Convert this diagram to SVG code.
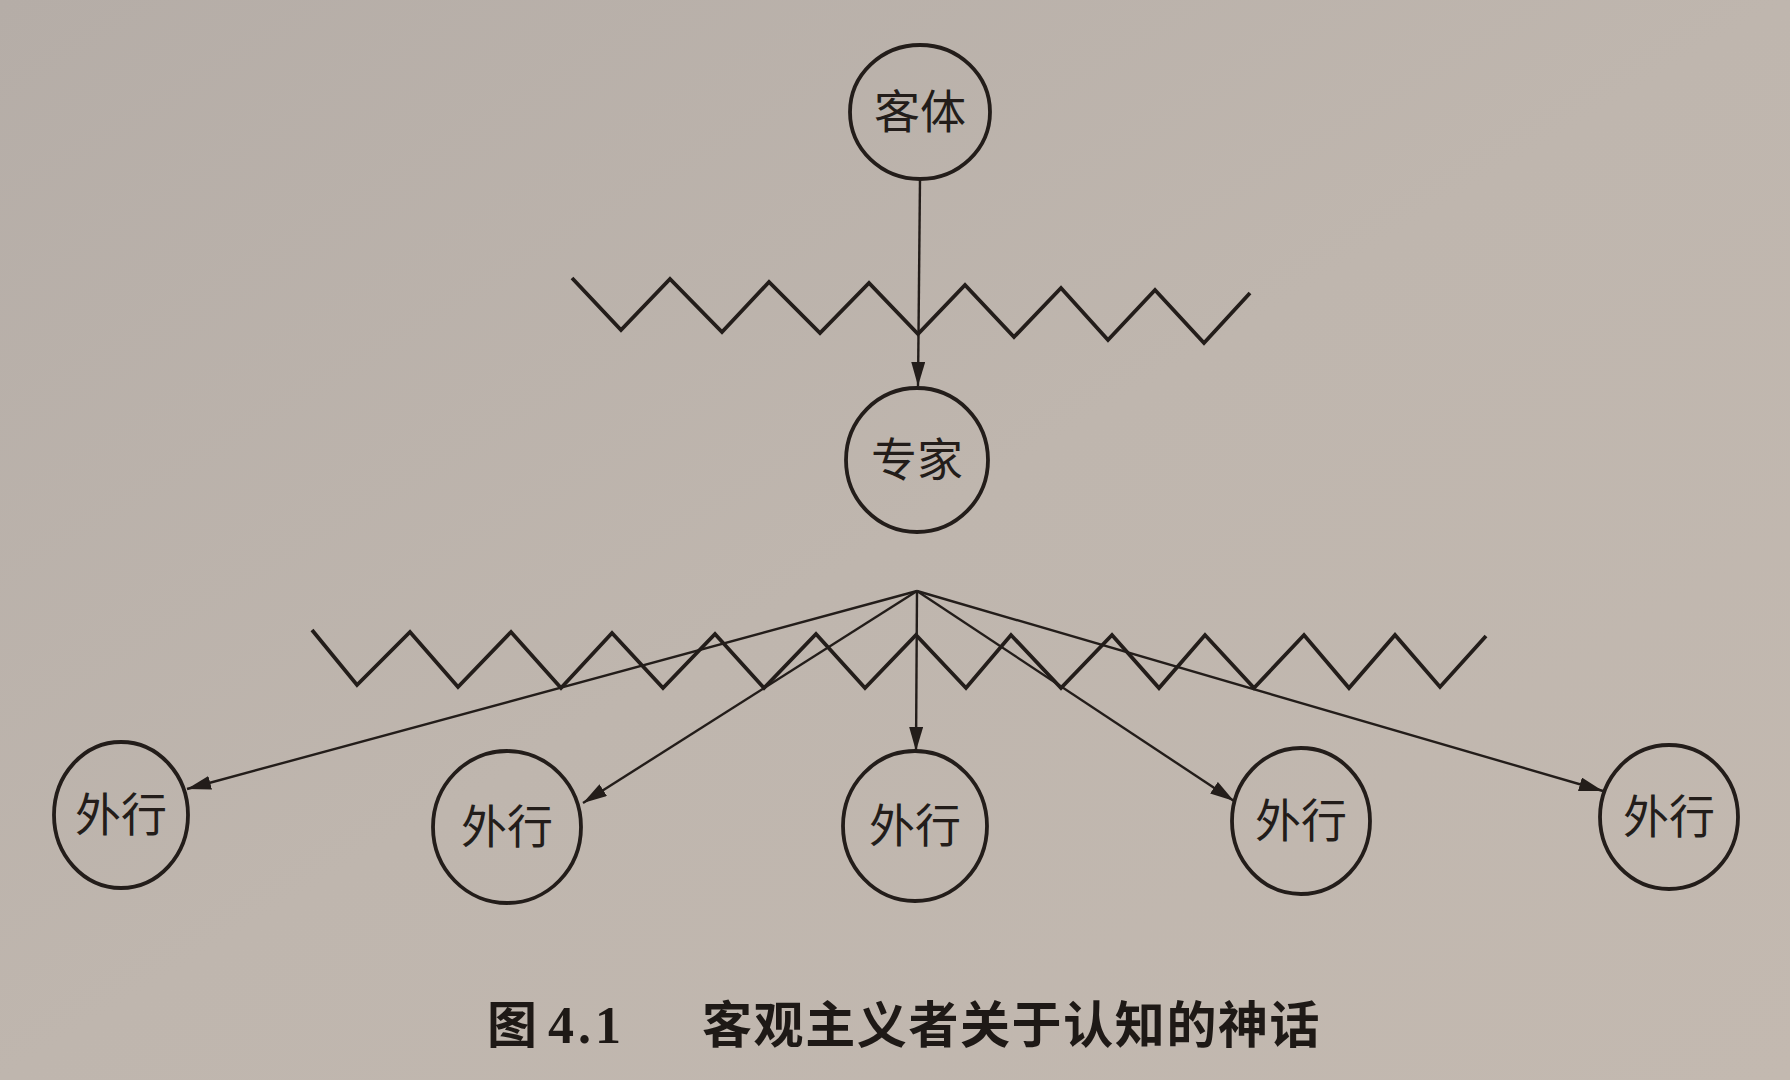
<svg xmlns="http://www.w3.org/2000/svg" width="1790" height="1080" viewBox="0 0 1790 1080">
<defs>
<linearGradient id="bg" x1="0" y1="0" x2="1" y2="1">
<stop offset="0" stop-color="#b5ada7"/>
<stop offset="0.5" stop-color="#bfb6ae"/>
<stop offset="1" stop-color="#c3b9b0"/>
</linearGradient>
<marker id="arr" markerUnits="userSpaceOnUse" markerWidth="26" markerHeight="16" refX="24" refY="7" orient="auto">
<path d="M0,0 L24,7 L0,14 Z" fill="#231d1a"/>
</marker>
<style>
.node{fill:none;stroke:#231d1a;stroke-width:3.8}
.lbl{font-family:"Noto Sans CJK SC","Noto Sans",sans-serif;font-size:46px;font-weight:400;fill:#231d1a;text-anchor:middle}
.zz{fill:none;stroke:#231d1a;stroke-width:3.8;stroke-linejoin:miter}
.edge{fill:none;stroke:#231d1a;stroke-width:2.4;marker-end:url(#arr)}
.cap{font-family:"Noto Sans CJK SC",sans-serif;font-size:50px;font-weight:700;fill:#1e1916}
.num{font-family:"Liberation Serif",serif;font-size:52px;font-weight:700;fill:#1e1916}
</style>
</defs>
<rect width="1790" height="1080" fill="url(#bg)"/>

<g id="barriers">
<polyline class="zz" points="572,278 621,330 670,279 722,332 769,282 820,333 869,283 918,334 965,285 1014,337 1061,288 1108,340 1155,290 1204,343 1250,293"/>
<polyline class="zz" points="312,630 357,685 410,632 458,687 511,632 561,688 612,633 663,688 715,634 764,688 816,634 865,688 916,635 966,688 1011,635 1061,688 1112,635 1159,688 1205,635 1254,688 1304,635 1349,688 1395,635 1440,687 1486,636"/>
</g>

<g id="connectors">
<line class="edge" x1="920" y1="179" x2="918" y2="386"/>
<line class="edge" x1="917" y1="591" x2="187" y2="789"/>
<line class="edge" x1="917" y1="591" x2="583" y2="803"/>
<line class="edge" x1="917" y1="591" x2="916" y2="751"/>
<line class="edge" x1="917" y1="591" x2="1234" y2="801"/>
<line class="edge" x1="917" y1="591" x2="1603" y2="791"/>
</g>

<g id="object">
<ellipse class="node" cx="920" cy="112" rx="70" ry="67"/>
<text class="lbl" x="920" y="128">客体</text>
</g>
<g id="expert">
<ellipse class="node" cx="917" cy="460" rx="71" ry="72"/>
<text class="lbl" x="917" y="476">专家</text>
</g>
<g id="layman1">
<ellipse class="node" cx="121" cy="815" rx="67" ry="73"/>
<text class="lbl" x="121" y="831">外行</text>
</g>
<g id="layman2">
<ellipse class="node" cx="507" cy="827" rx="74" ry="76"/>
<text class="lbl" x="507" y="843">外行</text>
</g>
<g id="layman3">
<ellipse class="node" cx="915" cy="826" rx="72" ry="75"/>
<text class="lbl" x="915" y="842">外行</text>
</g>
<g id="layman4">
<ellipse class="node" cx="1301" cy="821" rx="69" ry="73"/>
<text class="lbl" x="1301" y="837">外行</text>
</g>
<g id="layman5">
<ellipse class="node" cx="1669" cy="817" rx="69" ry="72"/>
<text class="lbl" x="1669" y="833">外行</text>
</g>

<g id="caption">
<text class="cap" x="487" y="1043">图</text>
<text class="num" x="548" y="1043" letter-spacing="4">4.1</text>
<text class="cap" x="702" y="1043" letter-spacing="1.6">客观主义者关于认知的神话</text>
</g>
</svg>
